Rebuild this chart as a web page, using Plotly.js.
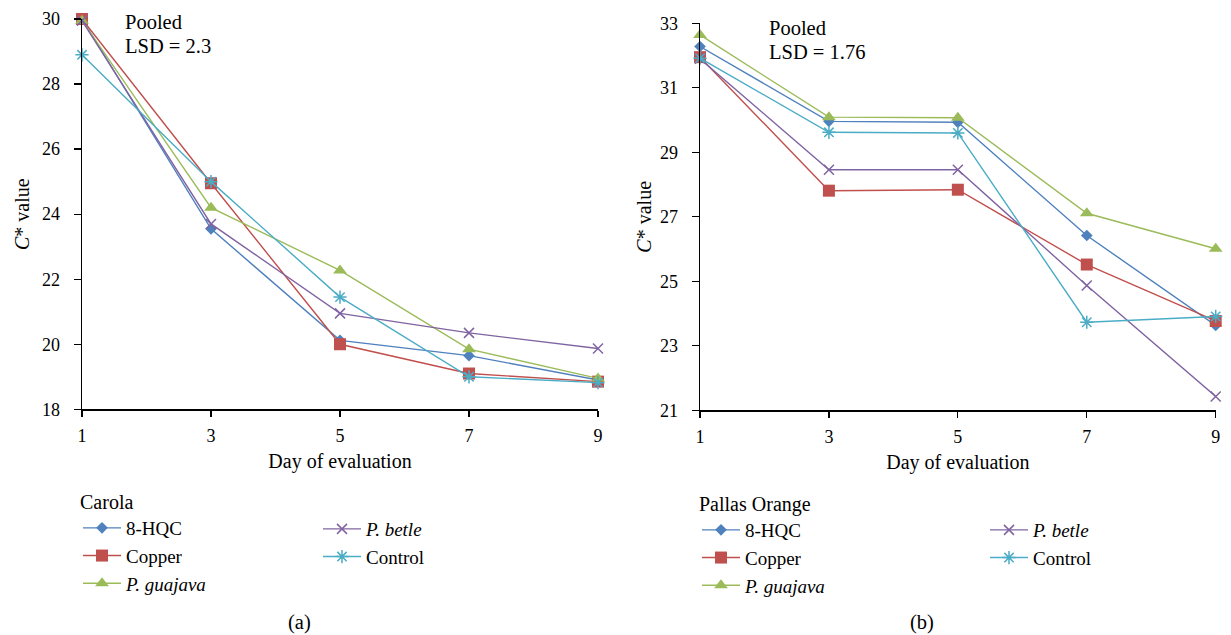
<!DOCTYPE html>
<html><head><meta charset="utf-8">
<script src="https://cdn.plot.ly/plotly-3.0.1.min.js"></script>
<style>html,body{margin:0;padding:0;background:#fff}</style>
</head><body><div id="chart" style="width:1231px;height:635px"></div>
<script>
// ---- data ----
const days = [1, 3, 5, 7, 9];
const treatmentNames = ['8-HQC', 'Copper', '<i>P. guajava</i>', '<i>P. betle</i>', 'Control'];
const cultivarNames = ['Carola', 'Pallas Orange'];
const lsdLabels = ['LSD = 2.3', 'LSD = 1.76'];
const yTickValsCarola = [18, 20, 22, 24, 26, 28, 30];
const yTickValsPallas = [21, 23, 25, 27, 29, 31, 33];

const carola_8HQC    = [30.0, 23.55, 20.12, 19.65, 18.90];
const carola_Copper  = [30.0, 24.95, 20.00, 19.10, 18.85];
const carola_Guajava = [29.95, 24.20, 22.27, 19.85, 18.95];
const carola_Betle   = [29.95, 23.70, 20.95, 20.35, 19.87];
const carola_Control = [28.90, 25.00, 21.45, 19.00, 18.82];

const pallas_8HQC    = [32.28, 29.96, 29.93, 26.42, 23.63];
const pallas_Copper  = [31.95, 27.81, 27.84, 25.52, 23.77];
const pallas_Guajava = [32.64, 30.09, 30.07, 27.11, 26.01];
const pallas_Betle   = [31.90, 28.46, 28.46, 24.87, 21.43];
const pallas_Control = [31.92, 29.62, 29.60, 23.73, 23.91];

// ---- styles ----
const W = 1231, H = 635;
const px = v => v / W;
const py = v => 1 - v / H;
const FONT = 'Liberation Serif';
const colors = ['#4F81BD', '#C0504D', '#9BBB59', '#8064A2', '#4BACC6'];
const markers = [
  {symbol: 'diamond', size: 9},
  {symbol: 'square', size: 12},
  {symbol: 'triangle-up', size: 12},
  {symbol: 'x-thin', size: 10},
  {symbol: 'asterisk', size: 11}
];
const legendOfLeft  = ['legend', 'legend', 'legend', 'legend2', 'legend2'];
const legendOfRight = ['legend3', 'legend3', 'legend3', 'legend4', 'legend4'];

function makeTrace(i, ys, xa, ya, leg) {
  const m = markers[i];
  const thin = (m.symbol === 'x-thin' || m.symbol === 'asterisk');
  return {
    x: days, y: ys, xaxis: xa, yaxis: ya, legend: leg,
    name: treatmentNames[i], type: 'scatter', mode: 'lines+markers',
    cliponaxis: false,
    line: {color: colors[i], width: 1.4},
    marker: {symbol: m.symbol, size: m.size, color: colors[i],
             line: {color: colors[i], width: thin ? 1.5 : 0}}
  };
}

const leftSeries = [carola_8HQC, carola_Copper, carola_Guajava, carola_Betle, carola_Control];
const rightSeries = [pallas_8HQC, pallas_Copper, pallas_Guajava, pallas_Betle, pallas_Control];
const data = [];
leftSeries.forEach((s, i) => data.push(makeTrace(i, s, 'x', 'y', legendOfLeft[i])));
rightSeries.forEach((s, i) => data.push(makeTrace(i, s, 'x2', 'y2', legendOfRight[i])));

function xAxis(d0, d1, anchor) {
  return {
    domain: [px(d0), px(d1)], range: [1, 9], anchor: anchor,
    tickmode: 'array', tickvals: days, ticktext: days.map(String),
    ticks: 'outside', ticklen: 6, tickwidth: 1.3, tickcolor: '#000',
    showline: true, linecolor: '#000', linewidth: 1.3,
    showgrid: false, zeroline: false, fixedrange: true,
    tickfont: {family: FONT, size: 18, color: '#000'},
    ticklabelstandoff: 4,
    title: {text: 'Day of evaluation', font: {family: FONT, size: 20, color: '#000'}, standoff: 8}
  };
}
function yAxis(d0, d1, anchor, range, vals, standoff) {
  return {
    domain: [py(d1), py(d0)], range: range, anchor: anchor,
    tickmode: 'array', tickvals: vals, ticktext: vals.map(String),
    ticks: 'outside', ticklen: 7, tickwidth: 1.3, tickcolor: '#000',
    showline: true, linecolor: '#000', linewidth: 1.3,
    showgrid: false, zeroline: false, fixedrange: true,
    tickfont: {family: FONT, size: 18, color: '#000'},
    ticklabelstandoff: 10,
    title: {text: '<i>C</i>* value', font: {family: FONT, size: 20, color: '#000'}, standoff: standoff}
  };
}

function legendBox(x, y, title) {
  const l = {
    x: px(x), y: py(y), xanchor: 'left', yanchor: 'top',
    orientation: 'v', bgcolor: 'rgba(0,0,0,0)', borderwidth: 0,
    font: {family: FONT, size: 19, color: '#000'},
    itemwidth: 38, tracegroupgap: 0
  };
  if (title) l.title = {text: title, side: 'top', font: {family: FONT, size: 20, color: '#000'}};
  return l;
}

const annFont = {family: FONT, size: 20.5, color: '#000'};
const layout = {
  width: W, height: H,
  margin: {l: 0, r: 0, t: 0, b: 0},
  paper_bgcolor: '#fff', plot_bgcolor: '#fff',
  font: {family: FONT, color: '#000'},
  showlegend: true,
  xaxis: xAxis(82, 598, 'y'),
  yaxis: yAxis(19, 409.3, 'x', [18, 30], yTickValsCarola, 7),
  xaxis2: xAxis(700, 1215.7, 'y2'),
  yaxis2: yAxis(23.3, 410.3, 'x2', [21, 33], yTickValsPallas, 3),
  legend: legendBox(78, 483, cultivarNames[0]),
  legend2: legendBox(318, 510, null),
  legend3: legendBox(697, 485, cultivarNames[1]),
  legend4: legendBox(985, 511, null),
  annotations: [
    {xref: 'paper', yref: 'paper', x: px(123), y: py(22), xanchor: 'left', yanchor: 'middle', text: 'Pooled', showarrow: false, font: annFont},
    {xref: 'paper', yref: 'paper', x: px(123), y: py(46), xanchor: 'left', yanchor: 'middle', text: lsdLabels[0], showarrow: false, font: annFont},
    {xref: 'paper', yref: 'paper', x: px(767), y: py(28), xanchor: 'left', yanchor: 'middle', text: 'Pooled', showarrow: false, font: annFont},
    {xref: 'paper', yref: 'paper', x: px(767), y: py(52), xanchor: 'left', yanchor: 'middle', text: lsdLabels[1], showarrow: false, font: annFont},
    {xref: 'paper', yref: 'paper', x: px(299), y: py(622), xanchor: 'center', yanchor: 'middle', text: '(a)', showarrow: false, font: annFont},
    {xref: 'paper', yref: 'paper', x: px(922), y: py(622), xanchor: 'center', yanchor: 'middle', text: '(b)', showarrow: false, font: annFont}
  ]
};

Plotly.newPlot('chart', data, layout, {displayModeBar: false, staticPlot: true});
</script>
</body></html>
